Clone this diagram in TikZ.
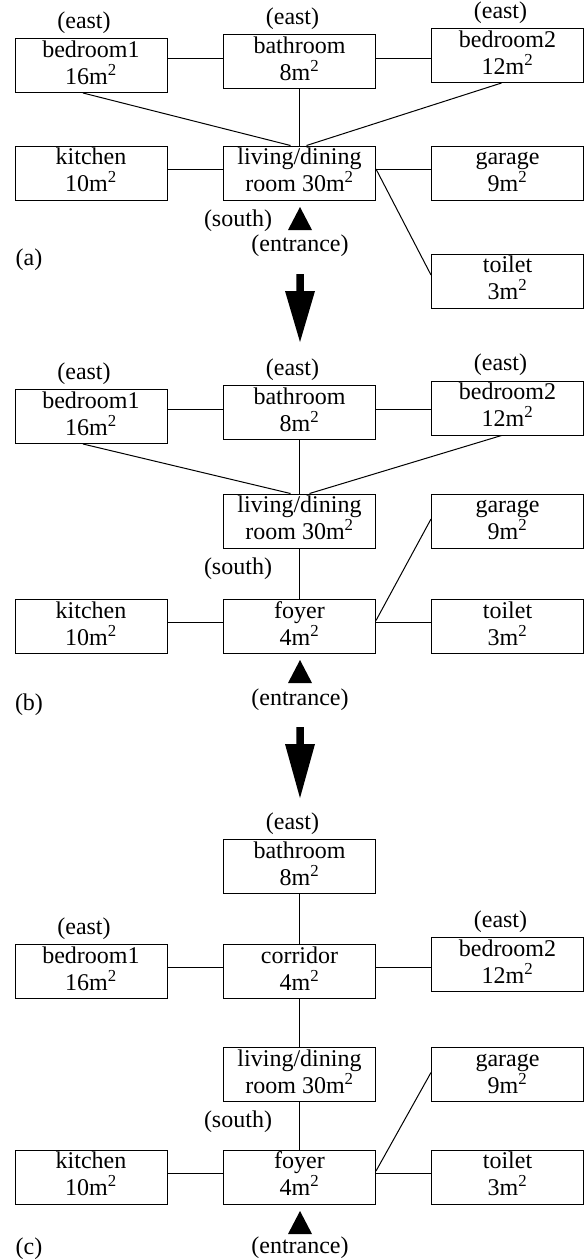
\documentclass[tikz,border=0pt]{standalone}
\usepackage{fontspec}
\setmainfont{Liberation Serif}
\usetikzlibrary{calc}
\newcommand\rmfs{\fontsize{24}{27}\selectfont}
\newcommand\sqm{m\smash{\textsuperscript{2}}}
\newcommand\roomnode[4]{\node[room] (#1) at (#2) {\strut #3\\\strut #4};}
\begin{document}
\begin{tikzpicture}[x=1pt, y=-1pt, line width=1pt,
  room/.style={draw, minimum width=152pt, minimum height=54pt, inner sep=0pt, align=center, font=\rmfs},
  lbl/.style={inner sep=0pt, font=\rmfs},
  eastlbl/.style={lbl, anchor=south}]
\useasboundingbox (0,0) rectangle (586,1259);

% ---------------- panel (a) ----------------
\roomnode{bathA}{299.5,61.5}{bathroom}{8\sqm}
\roomnode{bedoA}{91,65.5}{bedroom1}{16\sqm}
\roomnode{bedtA}{507.5,55.5}{bedroom2}{12\sqm}
\roomnode{livA}{299.5,173}{living/dining}{room 30\sqm}
\roomnode{kitA}{91,173}{kitchen}{10\sqm}
\roomnode{garA}{507.5,173}{garage}{9\sqm}
\roomnode{toiA}{507.5,281}{toilet}{3\sqm}
\node[eastlbl] (e1A) at ([xshift=-7pt,yshift=4pt]bedoA.north) {(east)};
\node[eastlbl] (e2A) at ([xshift=-7pt,yshift=4pt]bathA.north) {(east)};
\node[eastlbl] (e3A) at ([xshift=-7pt,yshift=4pt]bedtA.north) {(east)};
\node[lbl] (sA) at (238,221) {(south)};
\node[lbl] (enA) at (300,246) {(entrance)};
\node[lbl] (la) at (29,260) {(a)};
\coordinate (hA1) at ([yshift=3pt]bathA.west);
\coordinate (hA2) at ([yshift=3pt]bathA.east);
\draw (bedoA.east |- hA1) -- (hA1);
\draw (hA2) -- (bedtA.west |- hA2);
\draw (bathA.south) -- (livA.north);
\draw ([xshift=-8pt]bedoA.south) -- ([xshift=-9pt]livA.north);
\draw ([xshift=-6pt]bedtA.south) -- ([xshift=7pt]livA.north);
\coordinate (mA1) at ([yshift=4pt]livA.west);
\coordinate (mA2) at ([yshift=4pt]livA.east);
\draw (kitA.east |- mA1) -- (mA1);
\draw (mA2) -- (garA.west |- mA2);
\draw (mA2) -- ([yshift=6pt]toiA.west);
\fill (300,207) -- (288,230) -- (312,230) -- cycle;
\fill (296.25,274) -- (303.75,274) -- (303.75,291) -- (315,291) -- (300,342) -- (285,291) -- (296.25,291) -- cycle;

% ---------------- panel (b) ----------------
\roomnode{bathB}{299.5,412.5}{bathroom}{8\sqm}
\roomnode{bedoB}{91,416.5}{bedroom1}{16\sqm}
\roomnode{bedtB}{507.5,408}{bedroom2}{12\sqm}
\roomnode{livB}{299.5,521}{living/dining}{room 30\sqm}
\roomnode{garB}{507.5,521}{garage}{9\sqm}
\roomnode{kitB}{91,626.5}{kitchen}{10\sqm}
\roomnode{foyB}{299.5,626.5}{foyer}{4\sqm}
\roomnode{toiB}{507.5,626.5}{toilet}{3\sqm}
\node[eastlbl] (e1B) at ([xshift=-7pt,yshift=4pt]bedoB.north) {(east)};
\node[eastlbl] (e2B) at ([xshift=-7pt,yshift=4pt]bathB.north) {(east)};
\node[eastlbl] (e3B) at ([xshift=-7pt,yshift=4pt]bedtB.north) {(east)};
\node[lbl] (sB) at (238,569) {(south)};
\node[lbl] (enB) at (300,700) {(entrance)};
\node[lbl] (lb) at (29,705) {(b)};
\coordinate (hB1) at ([yshift=3pt]bathB.west);
\coordinate (hB2) at ([yshift=3pt]bathB.east);
\draw (bedoB.east |- hB1) -- (hB1);
\draw (hB2) -- (bedtB.west |- hB2);
\draw (bathB.south) -- (livB.north);
\draw ([xshift=-8pt]bedoB.south) -- ([xshift=-9pt]livB.north);
\draw ([xshift=-6pt]bedtB.south) -- ([xshift=10pt]livB.north);
\draw (livB.south) -- (foyB.north);
\coordinate (mB1) at ([yshift=4pt]foyB.west);
\coordinate (mB2) at ([yshift=4pt]foyB.east);
\draw (kitB.east |- mB1) -- (mB1);
\draw (mB2) -- (toiB.west |- mB2);
\draw ([yshift=6pt]foyB.east) -- ([yshift=2pt]garB.west);
\fill (300,660) -- (288,683) -- (312,683) -- cycle;
\fill (296.25,727) -- (303.75,727) -- (303.75,744) -- (315,744) -- (300,798) -- (285,744) -- (296.25,744) -- cycle;

% ---------------- panel (c) ----------------
\roomnode{bathC}{299.5,866.5}{bathroom}{8\sqm}
\roomnode{bedoC}{91,971.5}{bedroom1}{16\sqm}
\roomnode{corC}{299.5,971.5}{corridor}{4\sqm}
\roomnode{bedtC}{507.5,964.5}{bedroom2}{12\sqm}
\roomnode{livC}{299.5,1074.5}{living/dining}{room 30\sqm}
\roomnode{garC}{507.5,1074.5}{garage}{9\sqm}
\roomnode{kitC}{91,1177}{kitchen}{10\sqm}
\roomnode{foyC}{299.5,1177}{foyer}{4\sqm}
\roomnode{toiC}{507.5,1177}{toilet}{3\sqm}
\node[eastlbl] (e2C) at ([xshift=-7pt,yshift=4pt]bathC.north) {(east)};
\node[eastlbl] (e1C) at ([xshift=-7pt,yshift=4pt]bedoC.north) {(east)};
\node[eastlbl] (e3C) at ([xshift=-7pt,yshift=4pt]bedtC.north) {(east)};
\node[lbl] (sC) at (238,1122) {(south)};
\node[lbl] (enC) at (300,1248) {(entrance)};
\node[lbl] (lc) at (29,1249) {(c)};
\draw (bathC.south) -- (corC.north);
\coordinate (hC1) at ([yshift=4pt]corC.west);
\coordinate (hC2) at ([yshift=4pt]corC.east);
\draw (bedoC.east |- hC1) -- (hC1);
\draw (hC2) -- (bedtC.west |- hC2);
\draw (corC.south) -- (livC.north);
\draw (livC.south) -- (foyC.north);
\coordinate (mC1) at ([yshift=4pt]foyC.west);
\coordinate (mC2) at ([yshift=4pt]foyC.east);
\draw (kitC.east |- mC1) -- (mC1);
\draw (mC2) -- (toiC.west |- mC2);
\draw ([yshift=6pt]foyC.east) -- ([yshift=2pt]garC.west);
\fill (300,1211) -- (288,1234) -- (312,1234) -- cycle;
\end{tikzpicture}
\end{document}
